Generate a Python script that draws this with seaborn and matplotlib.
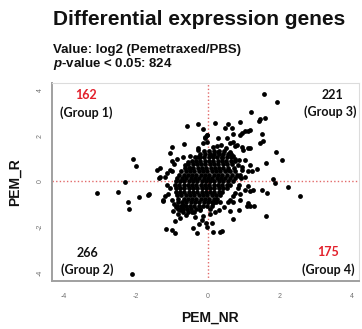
import numpy as np
import pandas as pd
import matplotlib
matplotlib.use("Agg")
import matplotlib.pyplot as plt
import seaborn as sns

# ---------------- data (log2 fold changes) ----------------
# sparse points, by quadrant
q1_x = [-0.58, -0.27, -0.13, -0.02, -0.08, -1.01, -0.67, -0.27, -1.06, -2.09, -2.00,
        -1.43, -1.33, -1.06, -1.01, -1.33, -1.35, -0.50, -0.27, -0.27, -0.55, -0.64,
        -0.50, -0.08, -0.02, -0.13, -0.04, -1.00, -0.85, -1.15, -1.20, -0.95, -0.70]
q1_y = [2.42, 2.52, 2.31, 2.05, 1.88, 1.50, 1.62, 1.47, 1.25, 0.99, 0.67,
        0.52, 0.57, 0.52, 0.45, 0.21, 0.14, 1.11, 1.38, 1.08, 0.86, 0.72,
        0.58, 1.96, 2.03, 1.67, 1.74, 0.90, 1.00, 0.35, 0.20, 0.75, 1.05]

q2_x = [-3.09, -2.49, -2.31, -1.91, -1.63, -2.21, -2.19, -1.24, -2.12, -1.17, -1.01,
        -0.91, -0.96, -0.82, -0.78, -0.92, -0.43, -0.31, -0.24, -0.18, -0.15, -0.22,
        -0.04, -0.06, -1.66, -1.19, -1.24, -0.89, -0.78, -0.73, -0.69, -1.05, -1.10,
        -1.00, -0.95, -1.15, -0.60, -0.45, -0.35]
q2_y = [-0.49, -0.47, -0.02, -0.69, -0.54, -0.90, -1.22, -0.86, -4.02, -2.07, -2.10,
        -2.27, -1.27, -1.44, -1.59, -1.73, -2.02, -2.24, -1.87, -1.68, -1.51, -1.24,
        -1.97, -1.83, -0.59, -0.64, -0.80, -1.11, -1.24, -1.17, -1.03, -0.30, -0.55,
        -0.80, -1.00, -0.15, -1.45, -1.35, -1.55]

q3_x = [1.56, 1.91, 1.19, 1.44, 1.58, 1.43, 0.89, 0.19, 0.56, 0.66, 0.47, 1.03, 1.12,
        1.17, 0.94, 1.49, 0.70, 0.89, 0.52, 0.29, 1.54, 1.44, 0.61, 0.70, 0.75, 0.81,
        0.94, 1.17, 0.15, 0.24, 1.89, 2.06, 1.61, 1.17, 1.35, 1.21, 0.94, 1.12, 0.87,
        1.03, 0.75, 1.81, 0.06, 0.28, 0.39, 0.61, 0.69, 0.97, 1.11, 0.83, 1.03, 0.56,
        0.90, 0.95, 0.85, 0.65, 0.50, 0.35, 0.92]
q3_y = [3.80, 3.48, 3.03, 2.74, 2.78, 2.66, 2.59, 2.56, 2.50, 2.35, 2.32, 2.20, 2.22,
        2.25, 2.10, 2.07, 2.06, 2.03, 1.89, 1.89, 1.77, 1.67, 1.67, 1.74, 1.56, 1.59,
        1.52, 1.48, 1.52, 1.56, 1.28, 0.93, 0.82, 0.70, 0.55, 0.45, 0.48, 0.45, 0.23,
        0.19, 0.96, 0.09, 1.16, 1.29, 1.03, 1.29, 1.11, 1.38, 1.46, 0.72, 0.94, 0.50,
        0.30, 0.62, 0.95, 1.22, 1.45, 1.60, 0.14]

q4_x = [1.86, 2.23, 2.56, 1.63, 1.12, 1.03, 1.17, 0.84, 0.61, 0.70, 1.49, 1.26, 0.89,
        1.12, 1.07, 1.17, 1.28, 0.87, 1.61, 0.70, 0.19, 0.33, 0.38, 0.15, 0.10, 0.05,
        0.06, 0.15, 0.33, 0.70, 0.85, 0.75, 0.55, 0.45, 0.30, 0.90, 0.60]
q4_y = [-0.06, -0.25, -0.63, -0.51, -0.21, -0.35, -0.42, -0.28, -0.79, -0.64, -0.35,
        -0.39, -0.79, -0.93, -1.05, -1.05, -1.05, -1.25, -1.51, -1.62, -1.34, -2.21,
        -2.17, -2.21, -1.81, -1.44, -1.21, -0.95, -0.88, -0.88, -0.15, -0.50, -0.90,
        -1.10, -1.25, -0.55, -1.30]

# dense core of the cloud: PEM_R value -> PEM_NR values
core_rows = {
    1.32: [-0.12, 0.02, 0.16, 0.30, 0.44],
    1.20: [-0.22, -0.08, 0.05, 0.18, 0.30, 0.42, 0.55],
    1.05: [-0.35, -0.22, -0.10, 0.02, 0.14, 0.26, 0.38, 0.52, 0.64],
    0.90: [-0.45, -0.33, -0.21, -0.09, 0.03, 0.15, 0.27, 0.39, 0.51, 0.63, 0.75],
    0.75: [-0.55, -0.43, -0.31, -0.19, -0.07, 0.05, 0.17, 0.29, 0.41, 0.53, 0.68],
    0.60: [-0.65, -0.53, -0.41, -0.29, -0.17, -0.05, 0.07, 0.19, 0.31, 0.43, 0.55, 0.72],
    0.45: [-0.75, -0.62, -0.50, -0.38, -0.26, -0.14, -0.02, 0.10, 0.22, 0.34, 0.46, 0.60, 0.75],
    0.30: [-0.80, -0.68, -0.56, -0.44, -0.32, -0.20, -0.08, 0.04, 0.16, 0.28, 0.40, 0.52, 0.66, 0.80],
    0.15: [-0.85, -0.72, -0.60, -0.48, -0.36, -0.24, -0.12, 0.00, 0.12, 0.24, 0.36, 0.48, 0.62, 0.76],
    0.00: [-0.90, -0.78, -0.66, -0.54, -0.42, -0.30, -0.18, -0.06, 0.06, 0.18, 0.30, 0.42, 0.56, 0.70],
    -0.15: [-0.92, -0.80, -0.68, -0.56, -0.44, -0.32, -0.20, -0.08, 0.04, 0.16, 0.28, 0.40, 0.52, 0.62],
    -0.30: [-0.90, -0.78, -0.66, -0.54, -0.42, -0.30, -0.18, -0.06, 0.06, 0.18, 0.30, 0.42, 0.52],
    -0.45: [-0.90, -0.78, -0.66, -0.54, -0.42, -0.30, -0.18, -0.06, 0.06, 0.18, 0.30, 0.40],
    -0.60: [-0.86, -0.74, -0.62, -0.50, -0.38, -0.26, -0.14, -0.02, 0.10, 0.22, 0.32],
    -0.75: [-0.84, -0.68, -0.56, -0.44, -0.32, -0.20, -0.08, 0.04, 0.16, 0.26],
    -0.90: [-0.84, -0.72, -0.60, -0.48, -0.36, -0.24, -0.12, 0.00, 0.10, 0.22],
    -1.05: [-0.86, -0.74, -0.62, -0.50, -0.38, -0.26, -0.14, -0.02, 0.12],
    -1.20: [-0.82, -0.70, -0.58, -0.46, -0.34, -0.22],
    -1.35: [-0.70, -0.56, -0.40],
}

group_counts = ["162", "266", "221", "175"]
group_names = ["(Group 1)", "(Group 2)", "(Group 3)", "(Group 4)"]
x_ticks = [-4, -2, 0, 2, 4]
y_ticks = [-4, -2, 0, 2, 4]

# ---------------- build table ----------------
core_x, core_y = [], []
for yv, xs in core_rows.items():
    core_x += xs
    core_y += [yv] * len(xs)

df = pd.DataFrame({
    "PEM_NR": q1_x + q2_x + q3_x + q4_x + core_x,
    "PEM_R": q1_y + q2_y + q3_y + q4_y + core_y,
})

# ---------------- plot ----------------
sns.set_theme(style="white")
plt.rcParams['font.family'] = ['Liberation Sans', 'DejaVu Sans']
plt.rcParams['mathtext.fontset'] = 'custom'
plt.rcParams['mathtext.it'] = 'Liberation Sans:italic:bold'
plt.rcParams['mathtext.rm'] = 'Liberation Sans:bold'

fig = plt.figure(figsize=(3.62, 3.29), dpi=100)
ax = fig.add_axes([52 / 362, 1 - 281 / 329, 307 / 362, 198 / 329])

sns.scatterplot(data=df, x="PEM_NR", y="PEM_R", color="black", s=12,
                linewidth=0, ax=ax, legend=False, zorder=3)

red_line = "#e26a6a"
ax.axhline(0, color=red_line, lw=1.0, ls=(0, (1, 1.6)), zorder=2)
ax.axvline(0, color=red_line, lw=1.0, ls=(0, (1, 1.6)), zorder=2)

ax.set_xlim(-4.333, 4.194)
ax.set_ylim(-4.345, 4.30)
ax.set_xticks(x_ticks)
ax.set_yticks(y_ticks)
ax.set_xticklabels([str(v) for v in x_ticks])
ax.set_yticklabels([str(v) for v in y_ticks], rotation=90, va="center")

for s in ["left", "bottom"]:
    ax.spines[s].set_color("#a0a0a0")
    ax.spines[s].set_linewidth(1.4)
for s in ["top", "right"]:
    ax.spines[s].set_color("#dcdcdc")
    ax.spines[s].set_linewidth(0.8)

ax.tick_params(axis="both", direction="out", length=4, width=0.8, color="#a0a0a0",
               labelsize=5, labelcolor="#707070")
ax.tick_params(axis="x", pad=5)
ax.tick_params(axis="y", pad=2)

ax.set_xlabel("PEM_NR", fontsize=10, fontweight="bold", color="#111111")
ax.set_ylabel("PEM_R", fontsize=10, fontweight="bold", color="#111111")
ax.xaxis.set_label_coords(0.515, -0.15)
ax.yaxis.set_label_coords(-0.097, 0.5)

# group annotations
red = "#e3202b"
ann_font = ['Lato', 'DejaVu Sans']
ax.text(-3.39, 3.78, group_counts[0], color=red, fontsize=9, fontweight="bold", ha="center", va="center", family=ann_font)
ax.text(-3.39, 2.99, group_names[0], color="#111111", fontsize=9, fontweight="bold", ha="center", va="center", family=ann_font)
ax.text(-3.36, -3.12, group_counts[1], color="#111111", fontsize=9, fontweight="bold", ha="center", va="center", family=ann_font)
ax.text(-3.36, -3.86, group_names[1], color="#111111", fontsize=9, fontweight="bold", ha="center", va="center", family=ann_font)
ax.text(3.47, 3.78, group_counts[2], color="#111111", fontsize=9, fontweight="bold", ha="center", va="center", family=ann_font)
ax.text(3.39, 3.03, group_names[2], color="#111111", fontsize=9, fontweight="bold", ha="center", va="center", family=ann_font)
ax.text(3.33, -3.08, group_counts[3], color=red, fontsize=9, fontweight="bold", ha="center", va="center", family=ann_font)
ax.text(3.33, -3.86, group_names[3], color="#111111", fontsize=9, fontweight="bold", ha="center", va="center", family=ann_font)

# titles
fig.text(53 / 362, 1 - 25 / 329, "Differential expression genes", fontsize=15,
         fontweight="bold", ha="left", va="baseline", color="#111111")
fig.text(53 / 362, 1 - 53 / 329, "Value: log2 (Pemetraxed/PBS)", fontsize=9.5,
         fontweight="bold", ha="left", va="baseline", color="#111111")
fig.text(53 / 362, 1 - 67 / 329, r"$p$-value < 0.05: 824", fontsize=9.5,
         fontweight="bold", ha="left", va="baseline", color="#111111")

fig.savefig("out.png", dpi=100)
